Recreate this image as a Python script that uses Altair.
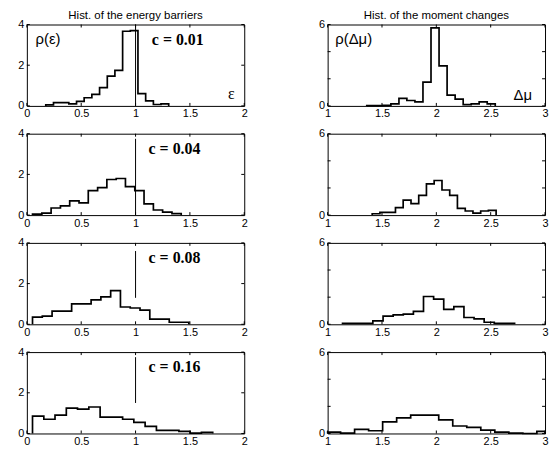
import altair as alt
import pandas as pd

# ---------------- data ----------------
C_LABELS = ["c = 0.01", "c = 0.04", "c = 0.08", "c = 0.16"]

# left column: histograms of the energy barriers (bin edges, densities)
E_EDGES = [
    [0.174, 0.245, 0.315, 0.386, 0.457, 0.527, 0.598, 0.669, 0.740, 0.810, 0.881, 0.952, 1.022, 1.093, 1.164, 1.234, 1.305],
    [0.052, 0.138, 0.223, 0.309, 0.394, 0.480, 0.565, 0.651, 0.736, 0.822, 0.907, 0.993, 1.078, 1.164, 1.249, 1.335, 1.420],
    [0.052, 0.142, 0.232, 0.322, 0.412, 0.501, 0.591, 0.681, 0.771, 0.861, 0.951, 1.041, 1.131, 1.221, 1.310, 1.400, 1.490],
    [0.052, 0.156, 0.259, 0.363, 0.466, 0.570, 0.674, 0.777, 0.881, 0.984, 1.088, 1.192, 1.295, 1.399, 1.502, 1.606, 1.710],
]
E_DENS = [
    [0.05, 0.16, 0.16, 0.10, 0.22, 0.40, 0.57, 0.90, 1.46, 1.75, 3.67, 3.70, 0.60, 0.25, 0.07, 0.10],
    [0.05, 0.10, 0.35, 0.45, 0.70, 0.60, 1.20, 1.35, 1.75, 1.80, 1.40, 1.20, 0.55, 0.25, 0.15, 0.07],
    [0.35, 0.40, 0.65, 0.65, 1.00, 1.00, 1.20, 1.35, 1.65, 0.85, 0.80, 0.70, 0.25, 0.25, 0.10, 0.10],
    [0.85, 0.70, 0.90, 1.25, 1.20, 1.30, 0.80, 0.80, 0.70, 0.55, 0.35, 0.15, 0.15, 0.10, 0.02, 0.05],
]
# vertical marker at epsilon = 1 (extent in density units)
E_MARK = [(0.0, 4.0), (0.0, 3.75), (1.3, 3.6), (1.5, 3.75)]

# right column: histograms of the moment changes
M_EDGES = [
    [1.360, 1.434, 1.508, 1.582, 1.656, 1.729, 1.803, 1.877, 1.951, 2.025, 2.099, 2.173, 2.247, 2.321, 2.394, 2.468, 2.542],
    [1.410, 1.481, 1.553, 1.624, 1.695, 1.767, 1.838, 1.909, 1.980, 2.052, 2.123, 2.194, 2.266, 2.337, 2.408, 2.479, 2.550],
    [1.137, 1.230, 1.323, 1.416, 1.510, 1.603, 1.696, 1.789, 1.882, 1.975, 2.068, 2.161, 2.254, 2.347, 2.440, 2.533, 2.627, 2.720],
    [1.000, 1.119, 1.248, 1.377, 1.506, 1.635, 1.764, 1.893, 2.022, 2.151, 2.280, 2.409, 2.538, 2.667, 2.796, 2.925, 3.000],
]
M_DENS = [
    [0.02, 0.02, 0.04, 0.15, 0.55, 0.40, 0.30, 1.75, 5.75, 2.95, 0.80, 0.50, 0.10, 0.15, 0.30, 0.15],
    [0.10, 0.20, 0.20, 0.55, 1.10, 0.85, 1.45, 2.30, 2.55, 1.85, 1.45, 0.50, 0.30, 0.15, 0.30, 0.35],
    [0.07, 0.07, 0.07, 0.25, 0.60, 0.70, 0.75, 0.95, 2.05, 1.85, 1.10, 1.30, 0.50, 0.40, 0.15, 0.07, 0.07],
    [0.10, 0.03, 0.30, 0.20, 0.85, 1.15, 1.35, 1.35, 1.00, 0.55, 0.45, 0.25, 0.10, 0.03, 0.00, 0.15],
]

E_XTICKS = [0, 0.5, 1, 1.5, 2]
E_YTICKS = [0, 2, 4]
M_XTICKS = [1, 1.5, 2, 2.5, 3]
M_YTICKS = [0, 2, 4, 6]

TITLES = ["Hist. of the energy barriers", "Hist. of the moment changes"]

# ---------------- layout / style ----------------
W, H = 219, 82
TICK = 3
SANS = "Liberation Sans"
SERIF = "Liberation Serif"


def outline(edges, dens):
    rows = [{"x": edges[0], "y": 0.0, "i": 0}]
    for k, d in enumerate(dens):
        rows.append({"x": edges[k], "y": d, "i": k + 1})
    rows.append({"x": edges[-1], "y": 0.0, "i": len(dens) + 1})
    return pd.DataFrame(rows)


def panel(edges, dens, xdom, ydom, xt, yt, title=None, texts=(), mark=None):
    xs = alt.Scale(domain=xdom, nice=False, zero=False)
    ys = alt.Scale(domain=ydom, nice=False)
    xa = alt.Axis(values=xt, format="~g", title=None, ticks=False, domain=False, grid=False,
                  labelFlush=False, labelOverlap=False, labelPadding=2)
    ya = alt.Axis(values=yt, format="~g", title=None, ticks=False, domain=False, grid=False,
                  labelFlush=False, labelOverlap=False, labelPadding=3)

    base = alt.Chart(outline(edges, dens))
    line = base.mark_line(interpolate="step-after", color="black", strokeWidth=1.7).encode(
        x=alt.X("x:Q", scale=xs, axis=xa),
        y=alt.Y("y:Q", scale=ys, axis=ya),
        order="i:Q",
    )
    layers = [line]

    xtdf = pd.DataFrame({"t": xt})
    ytdf = pd.DataFrame({"t": yt})
    layers.append(alt.Chart(xtdf).mark_rule(color="black", strokeWidth=1).encode(
        x=alt.X("t:Q", scale=xs), y=alt.value(H), y2=alt.value(H - TICK)))
    layers.append(alt.Chart(xtdf).mark_rule(color="black", strokeWidth=1).encode(
        x=alt.X("t:Q", scale=xs), y=alt.value(0), y2=alt.value(TICK)))
    layers.append(alt.Chart(ytdf).mark_rule(color="black", strokeWidth=1).encode(
        y=alt.Y("t:Q", scale=ys), x=alt.value(0), x2=alt.value(TICK)))
    layers.append(alt.Chart(ytdf).mark_rule(color="black", strokeWidth=1).encode(
        y=alt.Y("t:Q", scale=ys), x=alt.value(W), x2=alt.value(W - TICK)))

    if mark is not None:
        mdf = pd.DataFrame({"x": [1.0], "y0": [mark[0]], "y1": [mark[1]]})
        layers.append(alt.Chart(mdf).mark_rule(color="black", strokeWidth=1).encode(
            x=alt.X("x:Q", scale=xs), y=alt.Y("y0:Q", scale=ys), y2="y1:Q"))

    for (tx, ty, txt, font, size, weight) in texts:
        tdf = pd.DataFrame({"x": [tx], "y": [ty], "t": [txt]})
        layers.append(alt.Chart(tdf).mark_text(align="left", baseline="middle", font=font,
                                               fontSize=size, fontWeight=weight, color="black").encode(
            x=alt.X("x:Q", scale=xs), y=alt.Y("y:Q", scale=ys), text="t:N"))

    ch = alt.layer(*layers).properties(width=W, height=H)
    if title:
        ch = ch.properties(title=alt.TitleParams(title, font=SANS, fontSize=11.5, fontWeight="normal",
                                                 offset=-3, color="black"))
    return ch


rows = []
for r in range(4):
    ltexts = [(1.15 if r == 0 else 1.12, 3.25, C_LABELS[r], SERIF, 16, "bold")]
    rtexts = []
    if r == 0:
        ltexts += [(0.08, 3.3, "ρ(ε)", SANS, 15, "normal"), (1.85, 0.6, "ε", SERIF, 16, "normal")]
        rtexts += [(1.07, 4.95, "ρ(Δμ)", SANS, 15, "normal"), (2.71, 0.8, "Δμ", SANS, 15, "normal")]
    left = panel(E_EDGES[r], E_DENS[r], [0, 2], [0, 4], E_XTICKS, E_YTICKS,
                 title=TITLES[0] if r == 0 else None, texts=ltexts, mark=E_MARK[r])
    right = panel(M_EDGES[r], M_DENS[r], [1, 3], [0, 6], M_XTICKS, M_YTICKS,
                  title=TITLES[1] if r == 0 else None, texts=rtexts)
    rows.append(alt.hconcat(left, right, spacing=70))

chart = alt.vconcat(*rows, spacing=7).properties(
    padding={"left": 9, "top": 0, "right": 0, "bottom": 0},
    background="white",
).configure_view(stroke="black", strokeWidth=1).configure_axis(
    labelFont=SANS, labelFontSize=11, labelColor="black"
).configure_concat(spacing=7)

chart.save("out.html", embed_options={"renderer": "svg", "actions": False})
